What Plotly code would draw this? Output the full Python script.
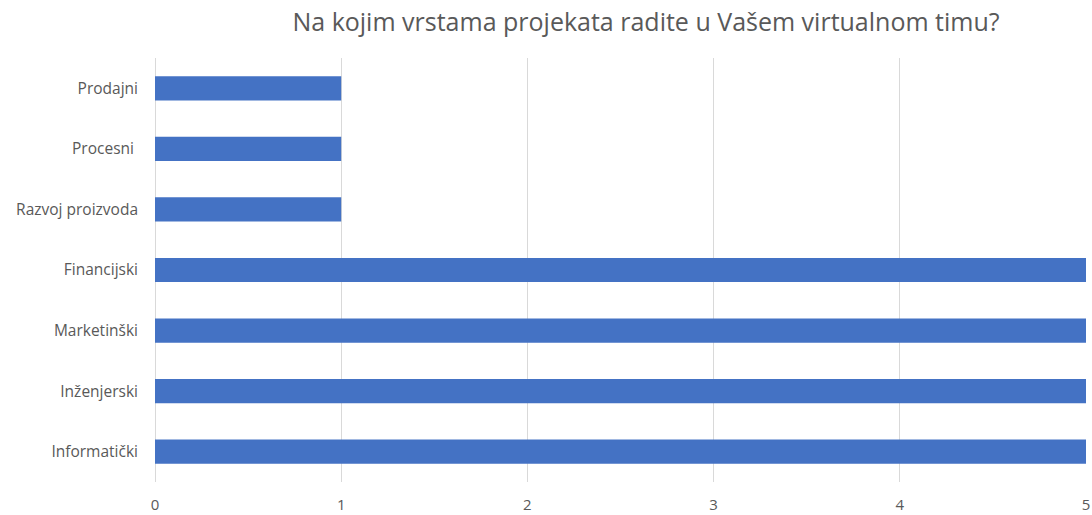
import plotly.graph_objects as go

categories = ["Informatički", "Inženjerski", "Marketinški", "Financijski",
              "Razvoj proizvoda", "Procesni ", "Prodajni"]
values = [5, 5, 5, 5, 1, 1, 1]
x_ticks = [0, 1, 2, 3, 4, 5]

title_text = "Na kojim vrstama projekata radite u Vašem virtualnom timu?"

fig = go.Figure(go.Bar(
    x=values, y=categories, orientation="h",
    marker=dict(color="#4472C4", line=dict(width=0)),
    width=0.4,
))

fig.update_layout(
    width=1092, height=515,
    margin=dict(l=155, r=6, t=58, b=33, autoexpand=False),
    paper_bgcolor="white", plot_bgcolor="white",
    font=dict(family="Open Sans, Lato, sans-serif", color="#595959", size=15),
    title=dict(text=title_text, xref="container", x=646/1092, xanchor="center",
               yref="container", y=1 - 22/515, yanchor="middle",
               font=dict(size=25, color="#595959"), automargin=False),
    showlegend=False,
)
fig.update_xaxes(range=[0, 5], tickvals=x_ticks, showgrid=True, gridcolor="#D9D9D9",
                 gridwidth=1, zeroline=True, zerolinecolor="#D9D9D9", zerolinewidth=1,
                 showline=False, ticks="", ticklabelstandoff=12, automargin=False,
                 tickfont=dict(size=15, color="#595959"))
fig.update_yaxes(categoryorder="array", categoryarray=categories, showgrid=False,
                 showline=False, ticks="", ticklabelstandoff=16, automargin=False,
                 tickfont=dict(size=15.5, color="#595959"))

fig.write_html("out.html", config={"displayModeBar": False},
               post_script="document.body.style.margin='0';document.body.style.overflow='hidden';")
